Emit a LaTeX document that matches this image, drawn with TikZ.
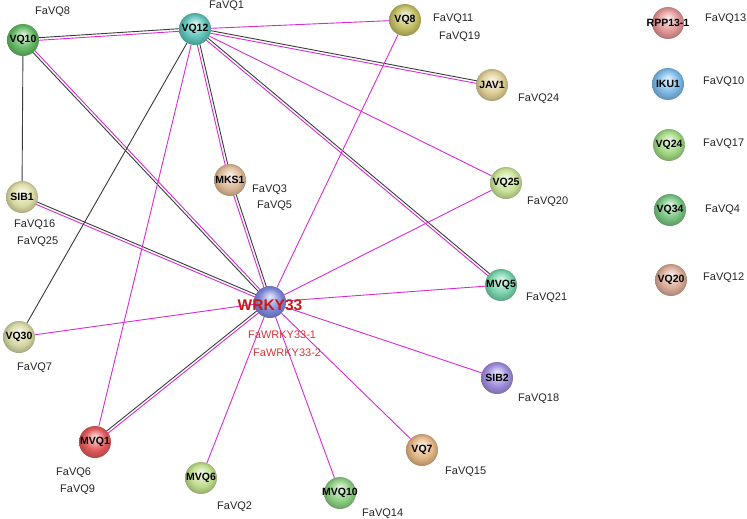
\documentclass[tikz,border=0pt]{standalone}
\usepackage{fontspec}
\setmainfont{Liberation Sans}
\usetikzlibrary{calc}
\pgfdeclarelayer{bg}
\pgfsetlayers{bg,main}
\makeatletter
\pgfdeclareradialshading[tikz@ball]{gloss}{\pgfqpoint{0bp}{9bp}}{%
  color(0bp)=(tikz@ball!20!white); color(6bp)=(tikz@ball!45!white);
  color(17bp)=(tikz@ball); color(25bp)=(tikz@ball!80!black);
  color(30bp)=(tikz@ball!60!black)}
\makeatother
\definecolor{mag}{RGB}{214,44,214}
\definecolor{blk}{RGB}{60,60,60}
\definecolor{wred}{RGB}{200,25,25}
\definecolor{lred}{RGB}{215,55,55}
\definecolor{cvqten}{RGB}{100,185,100}
\definecolor{cvqtwelve}{RGB}{95,195,185}
\definecolor{cvqeight}{RGB}{195,190,100}
\definecolor{cjav}{RGB}{220,205,150}
\definecolor{cmks}{RGB}{220,185,150}
\definecolor{cvqtf}{RGB}{200,225,150}
\definecolor{csibone}{RGB}{220,220,165}
\definecolor{cmvqfive}{RGB}{120,210,170}
\definecolor{cvqthirty}{RGB}{215,215,165}
\definecolor{csibtwo}{RGB}{160,140,220}
\definecolor{cmvqone}{RGB}{225,90,90}
\definecolor{cmvqsix}{RGB}{190,220,140}
\definecolor{cmvqten}{RGB}{140,205,130}
\definecolor{cvqseven}{RGB}{225,180,130}
\definecolor{cwrky}{RGB}{125,135,215}
\definecolor{crpp}{RGB}{225,150,150}
\definecolor{ciku}{RGB}{125,185,230}
\definecolor{cvqtwf}{RGB}{160,215,130}
\definecolor{cvqtf4}{RGB}{120,195,130}
\definecolor{cvqtw}{RGB}{215,170,150}
\tikzset{
  ball/.style={circle, minimum size=32pt, inner sep=0pt, ball color=#1, shading=gloss},
  nm/.style={font=\bfseries\fontsize{10.5}{12}\selectfont, text=black, inner sep=0pt},
  lbl/.style={anchor=west, font=\fontsize{11}{13}\selectfont, text=black!85, inner sep=0pt},
  rlbl/.style={anchor=west, font=\fontsize{11}{13}\selectfont, text=lred, inner sep=0pt},
  pe/.style={draw=mag, line width=0.9pt},
  be/.style={draw=blk, line width=0.9pt},
}
\newcommand\dbl[2]{%
  \draw[be] ($(#1)!1.3pt!90:(#2)$) -- ($(#2)!1.3pt!-90:(#1)$);
  \draw[pe] ($(#1)!1.3pt!-90:(#2)$) -- ($(#2)!1.3pt!90:(#1)$);}
\begin{document}
\begin{tikzpicture}[x=1pt,y=-1pt]
\useasboundingbox (0,0) rectangle (747,519);
% balls
\node[ball=cvqten,    label={[nm]center:VQ10}]  (vq10)  at (23,40) {};
\node[ball=cvqtwelve, label={[nm]center:VQ12}]  (vq12)  at (195,29) {};
\node[ball=cvqeight,  label={[nm]center:VQ8}]   (vq8)   at (405,20) {};
\node[ball=cjav,      label={[nm]center:JAV1}]  (jav1)  at (492,85) {};
\node[ball=cmks,      label={[nm]center:MKS1}]  (mks1)  at (230,180) {};
\node[ball=cvqtf,     label={[nm]center:VQ25}]  (vq25)  at (506,183) {};
\node[ball=csibone,   label={[nm]center:SIB1}]  (sib1)  at (22,197) {};
\node[ball=cmvqfive,  label={[nm]center:MVQ5}]  (mvq5)  at (501,285) {};
\node[ball=cvqthirty, label={[nm]center:VQ30}]  (vq30)  at (19,337) {};
\node[ball=csibtwo,   label={[nm]center:SIB2}]  (sib2)  at (497,378) {};
\node[ball=cmvqone,   label={[nm]center:MVQ1}]  (mvq1)  at (95,442) {};
\node[ball=cmvqsix,   label={[nm]center:MVQ6}]  (mvq6)  at (201,478) {};
\node[ball=cmvqten,   label={[nm]center:MVQ10}] (mvq10) at (340,493) {};
\node[ball=cvqseven,  label={[nm]center:VQ7}]   (vq7)   at (422,450) {};
\node[ball=cwrky,
      label={[font=\bfseries\fontsize{15.5}{17}\selectfont, text=wred, inner sep=0pt, yshift=-3pt]center:WRKY33}] (wrky) at (270,302) {};
\node[ball=crpp,      label={[nm]center:RPP13-1}] (rpp) at (668,23) {};
\node[ball=ciku,      label={[nm]center:IKU1}]  (iku1)  at (668,84) {};
\node[ball=cvqtwf,    label={[nm]center:VQ24}]  (vq24)  at (669,145) {};
\node[ball=cvqtf4,    label={[nm]center:VQ34}]  (vq34)  at (670,210) {};
\node[ball=cvqtw,     label={[nm]center:VQ20}]  (vq20)  at (671,280) {};
% labels
\node[lbl] (l8)  at (35,12)  {FaVQ8};
\node[lbl] (l1)  at (209,6)  {FaVQ1};
\node[lbl] (l11) at (433,19) {FaVQ11};
\node[lbl] (l19) at (439,37) {FaVQ19};
\node[lbl] (l24) at (518,99) {FaVQ24};
\node[lbl] (l3)  at (252,190) {FaVQ3};
\node[lbl] (l5)  at (257,206) {FaVQ5};
\node[lbl] (l20) at (527,202) {FaVQ20};
\node[lbl] (l16) at (14,225) {FaVQ16};
\node[lbl] (l25) at (17,242) {FaVQ25};
\node[lbl] (l21) at (526,298) {FaVQ21};
\node[lbl] (l7)  at (17,368) {FaVQ7};
\node[lbl] (l18) at (518,399) {FaVQ18};
\node[lbl] (l6)  at (56,473) {FaVQ6};
\node[lbl] (l9)  at (60,490) {FaVQ9};
\node[lbl] (l2)  at (217,507) {FaVQ2};
\node[lbl] (l14) at (362,514) {FaVQ14};
\node[lbl] (l15) at (445,472) {FaVQ15};
\node[rlbl] (lw1) at (248,335) {FaWRKY33-1};
\node[rlbl] (lw2) at (253,353) {FaWRKY33-2};
\node[lbl] (l13) at (705,19)  {FaVQ13};
\node[lbl] (l10) at (703,82)  {FaVQ10};
\node[lbl] (l17) at (703,144) {FaVQ17};
\node[lbl] (l4)  at (705,210) {FaVQ4};
\node[lbl] (l12) at (703,278) {FaVQ12};
% edges
\begin{pgfonlayer}{bg}
\fill[white] (0,0) rectangle (747,519);
\dbl{vq10}{vq12}
\dbl{wrky}{vq10}
\dbl{vq12}{jav1}
\dbl{vq12}{mvq5}
\dbl{vq12}{mks1}
\dbl{mks1}{wrky}
\dbl{sib1}{wrky}
\dbl{mvq1}{wrky}
\draw[be] (vq10) -- (sib1);
\draw[be] (vq12) -- (vq30);
\draw[pe] (vq12) -- (vq8);
\draw[pe] (vq12) -- (vq25);
\draw[pe] (vq12) -- (mvq1);
\draw[pe] (vq8) -- (wrky);
\draw[pe] (vq25) -- (wrky);
\draw[pe] (mvq5) -- (wrky);
\draw[pe] (vq30) -- (wrky);
\draw[pe] (mvq6) -- (wrky);
\draw[pe] (mvq10) -- (wrky);
\draw[pe] (vq7) -- (wrky);
\draw[pe] (sib2) -- (wrky);
\end{pgfonlayer}
\end{tikzpicture}
\end{document}
